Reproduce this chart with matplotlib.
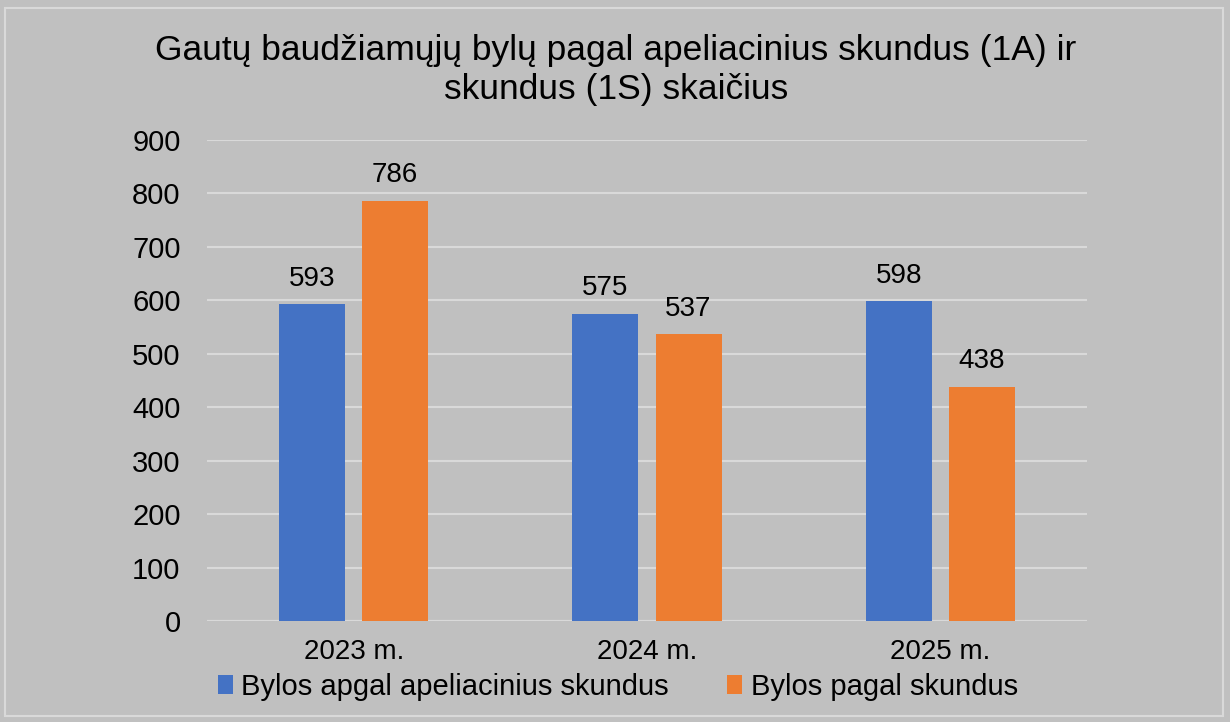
import matplotlib
matplotlib.use("Agg")
import matplotlib.pyplot as plt
from matplotlib.patches import Rectangle
import numpy as np

categories = ["2023 m.", "2024 m.", "2025 m."]
series_names = ["Bylos apgal apeliacinius skundus", "Bylos pagal skundus"]
apeliaciniai = [593, 575, 598]
skundai = [786, 537, 438]
yticks = [0, 100, 200, 300, 400, 500, 600, 700, 800, 900]
title = "Gautų baudžiamųjų bylų pagal apeliacinius skundus (1A) ir\nskundus (1S) skaičius"

plt.rcParams['font.family'] = ['Liberation Sans', 'DejaVu Sans']
bg = "#c0c0c0"
blue = "#4472c4"
orange = "#ed7d31"
grid = "#d9d9d9"

fig = plt.figure(figsize=(12.3, 7.22), dpi=100, facecolor=bg)
ax = fig.add_axes([207/1230, 1-621/722, 880/1230, 481/722])
ax.set_facecolor(bg)

x = np.arange(len(categories))
w = 0.225
gap = 0.058
b1 = ax.bar(x - (w+gap)/2, apeliaciniai, w, color=blue, label=series_names[0], zorder=3)
b2 = ax.bar(x + (w+gap)/2, skundai, w, color=orange, label=series_names[1], zorder=3)
for bars in (b1, b2):
    for r in bars:
        ax.annotate(f"{int(r.get_height())}", (r.get_x()+r.get_width()/2, r.get_height()),
                    xytext=(0, 9), textcoords="offset points", ha="center", va="bottom",
                    fontsize=20, color="black")

ax.set_xlim(-0.5, 2.5)
ax.set_ylim(0, 900)
ax.set_yticks(yticks)
ax.set_xticks(x)
ax.set_xticklabels(categories)
ax.tick_params(axis='both', length=0, colors="black")
ax.tick_params(axis='y', pad=19, labelsize=21)
ax.tick_params(axis='x', pad=13, labelsize=20)
ax.yaxis.grid(True, color=grid, linewidth=1.5, zorder=0)
for s in ax.spines.values():
    s.set_visible(False)
ax.axhline(0, color=grid, linewidth=1.5, zorder=2)

fig.text(616/1230, 1-70/722, title, ha="center", va="center", fontsize=25.5, linespacing=1.22)

leg = fig.legend(loc="center", bbox_to_anchor=(618/1230, 1-687/722), ncol=2, frameon=False,
                 fontsize=21, handlelength=0.5, handleheight=0.6, handletextpad=0.3,
                 columnspacing=2.0)

fig.patches.append(Rectangle((5/1230, 6/722), 1218/1230, 708/722, transform=fig.transFigure,
                             fill=False, edgecolor=grid, linewidth=1.5))
fig.savefig("out.png", dpi=100, facecolor=bg)
